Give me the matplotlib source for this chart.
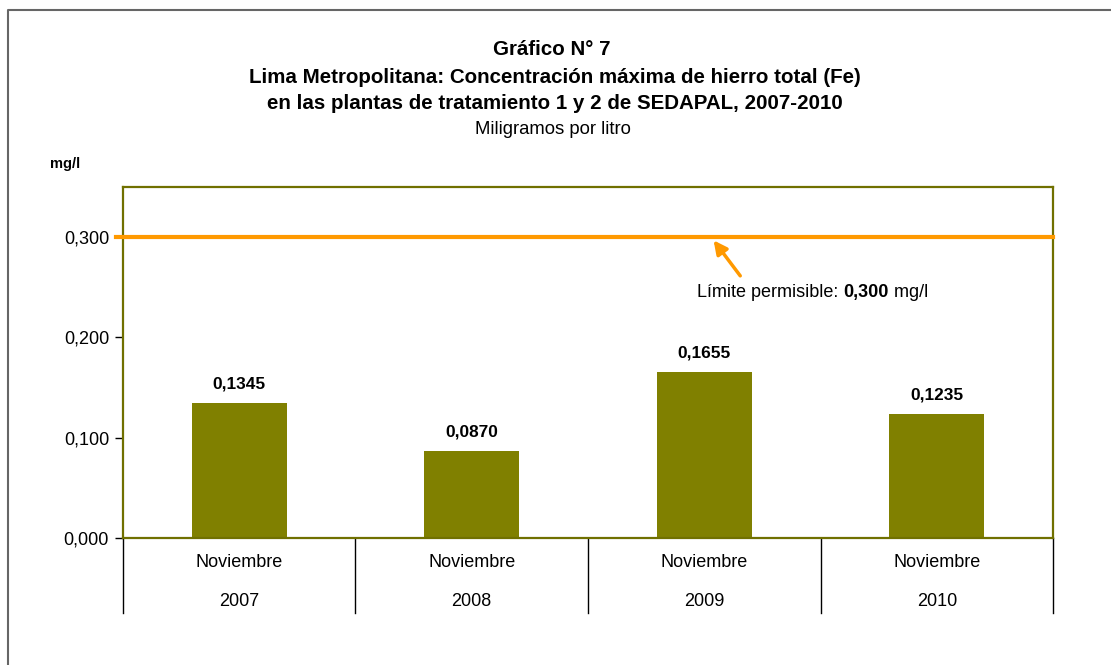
# Gráfico N° 7 - hierro total (Fe) en plantas SEDAPAL
import matplotlib
matplotlib.use('Agg')
import matplotlib.pyplot as plt
from matplotlib.lines import Line2D
from matplotlib.transforms import blended_transform_factory

# data
meses = ['Noviembre', 'Noviembre', 'Noviembre', 'Noviembre']
anios = ['2007', '2008', '2009', '2010']
valores = [0.1345, 0.0870, 0.1655, 0.1235]
etiquetas = ['0,1345', '0,0870', '0,1655', '0,1235']
limite = 0.300
yticks = [0.0, 0.1, 0.2, 0.3]
ytick_labels = ['0,000', '0,100', '0,200', '0,300']

olive = '#808000'
orange = '#FF9900'
arial = ['Liberation Sans', 'DejaVu Sans']

fig = plt.figure(figsize=(11.11, 6.65), dpi=100)
ax = fig.add_axes([0.1107, 0.191, 0.8371, 0.5278])

x = range(len(valores))
ax.bar(x, valores, width=0.41, color=olive, zorder=2)
for i, v in enumerate(valores):
    ax.annotate(etiquetas[i], (i, v), xytext=(0, 13.5), textcoords='offset points',
                ha='center', va='center', fontsize=12.4, fontweight='bold', family=arial)

# limit line
ax.axhline(limite, xmin=-0.007, xmax=1.0, color=orange, lw=3, clip_on=False, zorder=3)
ax.annotate('', xy=(2.033, limite - 0.001), xytext=(2.162, 0.2592),
            arrowprops=dict(arrowstyle='-|>', color=orange, lw=2.5, mutation_scale=20))
t1 = ax.text(1.969, 0.2443, 'Límite permisible: ', fontsize=13, family=arial,
             ha='left', va='center')
t2 = ax.annotate('0,300', xy=(1, 0.5), xycoords=t1, ha='left', va='center',
                 fontsize=13, fontweight='bold', family=arial)
ax.annotate(' mg/l', xy=(1, 0.5), xycoords=t2, ha='left', va='center',
            fontsize=13, family=arial)

# axes
ax.set_xlim(-0.5, 3.5)
ax.set_ylim(0, 0.35)
ax.set_yticks(yticks)
ax.set_yticklabels(ytick_labels, fontsize=13, family=arial)
ax.tick_params(axis='y', length=6, width=1, color='black', pad=4)
ax.set_xticks([])
for s in ax.spines.values():
    s.set_color('#707000')
    s.set_linewidth(1.6)

# category labels and separators
tr = blended_transform_factory(ax.transData, ax.transAxes)
for b in [-0.5, 0.5, 1.5, 2.5, 3.5]:
    ax.add_line(Line2D([b, b], [0, -0.214], transform=tr, color='black', lw=1, clip_on=False))
for i in x:
    ax.text(i, -0.071, meses[i], transform=tr, ha='center', va='center', fontsize=13, family=arial)
    ax.text(i, -0.182, anios[i], transform=tr, ha='center', va='center', fontsize=13, family=arial)

# titles
fig.text(0.497, 0.926, 'Gráfico N° 7', ha='center', va='center', fontsize=14.8,
         fontweight='bold', family=arial)
fig.text(0.4995, 0.884, 'Lima Metropolitana: Concentración máxima de hierro total (Fe)',
         ha='center', va='center', fontsize=14.8, fontweight='bold', family=arial)
fig.text(0.4995, 0.845, 'en las plantas de tratamiento 1 y 2 de SEDAPAL, 2007-2010',
         ha='center', va='center', fontsize=14.8, fontweight='bold', family=arial)
fig.text(0.4975, 0.806, 'Miligramos por litro', ha='center', va='center', fontsize=13.3,
         family=arial)
fig.text(0.0585, 0.753, 'mg/l', ha='center', va='center', fontsize=10.5,
         fontweight='bold', family=arial)

# outer border
fig.add_artist(Line2D([0.0072, 0.0072, 1.0], [0.0, 0.985, 0.985], transform=fig.transFigure,
                      color='#666666', lw=1.5))

fig.savefig('out.png', dpi=100)
